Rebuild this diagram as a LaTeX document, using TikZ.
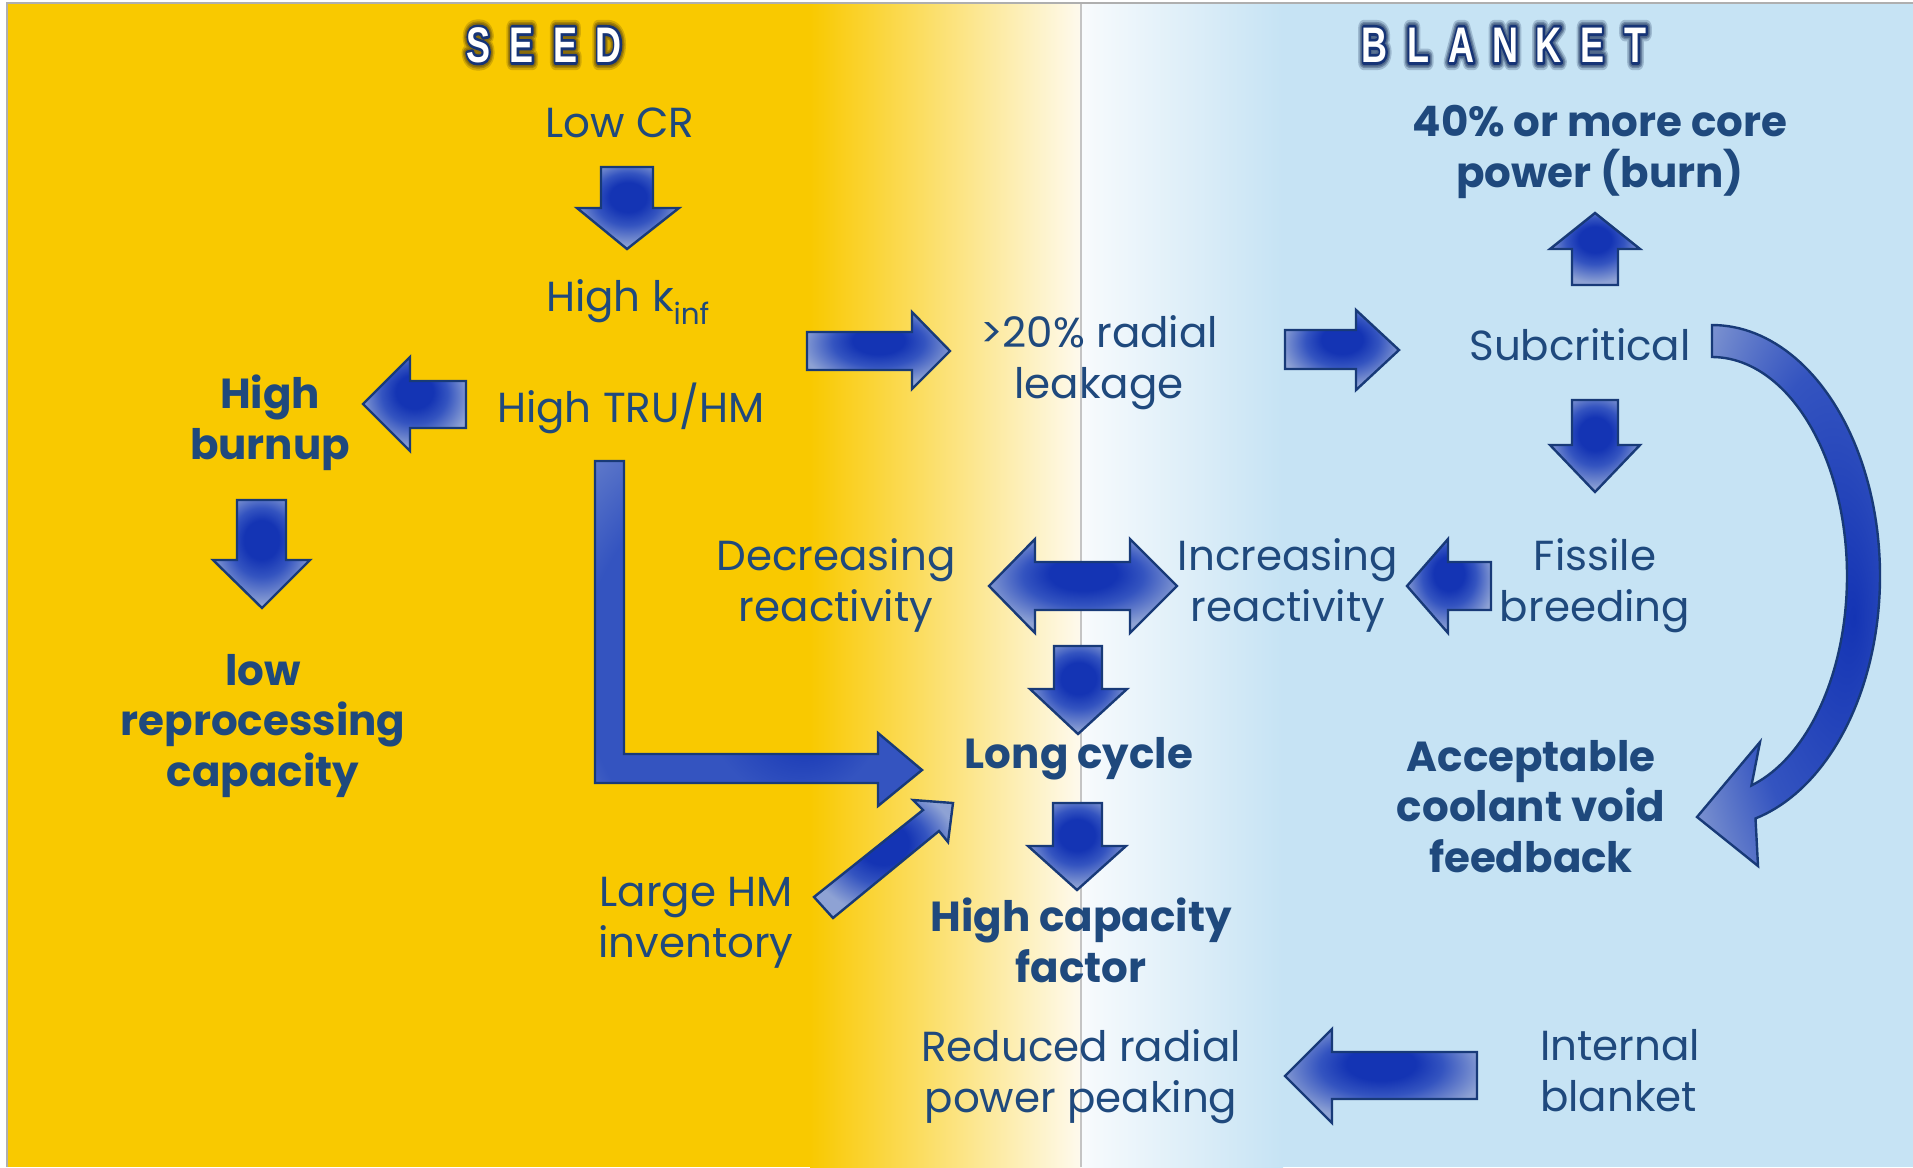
\documentclass[tikz,border=0pt]{standalone}
\usepackage{fontspec}
\usepackage{graphicx}
\usetikzlibrary{calc}
\setmainfont{Poppins}
\newfontfamily\titlefont{Liberation Sans}

% palette
\definecolor{seedyellow}{RGB}{249,201,0}
\definecolor{seedcream}{RGB}{254,250,238}
\definecolor{blanketwhite}{RGB}{248,251,253}
\definecolor{blanketblue}{RGB}{198,227,244}
\definecolor{txt}{RGB}{31,73,125}
\definecolor{ablue}{RGB}{20,52,180}
\definecolor{amid}{RGB}{52,84,192}
\definecolor{alight}{RGB}{142,162,212}
\definecolor{aline}{RGB}{24,58,120}
\definecolor{titlerim}{RGB}{22,52,118}
\definecolor{seedglow}{RGB}{125,98,12}
\definecolor{blanketglow}{RGB}{68,92,128}

% block-arrow fills: dark core slightly above the middle, lighter rim
\pgfdeclareradialshading{arrowshade}{\pgfpoint{0bp}{8bp}}{%
  color(0bp)=(ablue); color(9bp)=(ablue); color(16bp)=(amid); color(27bp)=(alight); color(50bp)=(alight)}
\pgfdeclareradialshading{elbowshade}{\pgfpoint{8bp}{-14bp}}{%
  color(0bp)=(ablue); color(14bp)=(amid); color(30bp)=(amid); color(48bp)=(alight)}
\pgfdeclareradialshading{curveshade}{\pgfpoint{18bp}{-2bp}}{%
  color(0bp)=(ablue); color(22bp)=(amid); color(40bp)=(alight); color(50bp)=(alight)}

\newcommand\labelfont{\fontsize{42}{50.5}\selectfont}
\newcommand\tletter[1]{\makebox[43.5pt]{\scalebox{0.72}[1]{#1}}}
% glyphs filled and stroked in one colour (PDF text render mode 2)
\newcommand\rimmed[3]{% colour, stroke width, text
  {\color{#1}\special{x:gsave}\special{pdf:literal direct 2 Tr #2 w 1 j}#3\special{x:grestore}}}

\tikzset{
  blockarrow/.style={draw=aline, line width=2.4pt, line join=miter, shade, shading=arrowshade},
  lbl/.style={text=txt, inner sep=0pt, align=center, anchor=base, font=\labelfont},
  boldlbl/.style={lbl, font=\labelfont\bfseries},
  titlest/.style={inner sep=0pt, anchor=center, font=\titlefont\bfseries\fontsize{50}{50}\selectfont},
  divider/.style={draw={rgb,255:red,196;green,196;blue,196}, line width=1.2pt},
  frame/.style={draw={rgb,255:red,175;green,175;blue,175}, line width=1.5pt},
}

% outlined heading: soft halo in three layers, navy rim, white letters
\newcommand\heading[5]{% name, x, y, halo colour, letters
  \begin{scope}[opacity=0.3]
    \node[titlest] (#1-halo) at (#2,#3) {\rimmed{#4}{16}{#5}};
  \end{scope}
  \begin{scope}[opacity=0.5]
    \node[titlest] (#1-glow) at (#2,#3) {\rimmed{#4}{12}{#5}};
  \end{scope}
  \begin{scope}[opacity=0.7]
    \node[titlest] (#1-shine) at (#2,#3) {\rimmed{#4}{9}{#5}};
  \end{scope}
  \node[titlest] (#1-rim) at (#2,#3) {\rimmed{titlerim}{5.6}{#5}};
  \node[titlest, text=white] (#1) at (#2,#3) {#5};
}

\begin{document}
\begin{tikzpicture}[x=1pt,y=-1pt]
\useasboundingbox (0,0) rectangle (1913,1167);

% ---- background: seed side, blend, blanket side
\fill[white] (0,0) rectangle (1913,1167);
\fill[seedyellow] (7,3) rectangle (811,1167);
\shade[left color=seedyellow, right color=seedcream] (810,3) rectangle (1081,1167);
\shade[left color=blanketwhite, right color=blanketblue] (1081,3) rectangle (1283,1167);
\fill[blanketblue] (1282,3) rectangle (1913,1167);
\draw[divider] (1081,3) -- (1081,1167);
\draw[frame] (7,1167) -- (7,3) -- (1913,3);

% ---- headings
\heading{seed}{543.5}{45}{seedglow}{\tletter{S}\tletter{E}\tletter{E}\tletter{D}}
\heading{blanket}{1505}{45}{blanketglow}{\tletter{B}\tletter{L}\tletter{A}\tletter{N}\tletter{K}\tletter{E}\tletter{T}}

% ---- labels (multi-line labels sit on the baseline of their last line)
\node[lbl] (lowcr) at (620,137) {Low CR};
\node[lbl] (highk) at (628,311) {High k\textsubscript{inf}};
\node[lbl] (hightru) at (631,422) {High TRU/HM};
\node[boldlbl] (burnup) at (270,459) {High\\burnup};
\node[boldlbl] (lowrep) at (263,786) {low\\reprocessing\\capacity};
\node[lbl] (leak) at (1099,398) {>20\% radial\\leakage};
\node[boldlbl] (pow40) at (1600,187) {40\% or more core\\power (burn)};
\node[lbl] (subcrit) at (1580,360) {Subcritical};
\node[lbl] (fissile) at (1595,621) {Fissile\\breeding};
\node[lbl] (incr) at (1288,621) {Increasing\\reactivity};
\node[lbl] (decr) at (836,621) {Decreasing\\reactivity};
\node[boldlbl] (longcyc) at (1079,768) {Long cycle};
\node[boldlbl] (hicap) at (1081,982) {High capacity\\factor};
\node[lbl] (largehm) at (696,957) {Large HM\\inventory};
\node[boldlbl] (accept) at (1531,872) {Acceptable\\coolant void\\feedback};
\node[lbl] (reduced) at (1081,1112) {Reduced radial\\power peaking};
\node[lbl, align=left, anchor=base west] (internal) at (1540,1111) {Internal\\blanket};

% ---- block arrows
% Low CR -> High k_inf
\path[blockarrow] (601,167) -- (653,167) -- (653,208) -- (679,208) -- (627,249) -- (577,208) -- (601,208) -- cycle;
% High k_inf -> radial leakage
\path[blockarrow] (807,332) -- (912,332) -- (912,312) -- (950,351) -- (912,389) -- (912,370) -- (807,370) -- cycle;
% radial leakage -> subcritical
\path[blockarrow] (1285,330) -- (1356,330) -- (1356,310) -- (1399,350) -- (1356,390) -- (1356,369) -- (1285,369) -- cycle;
% subcritical -> core power
\path[blockarrow] (1572,285) -- (1572,249) -- (1550,249) -- (1595,213) -- (1640,249) -- (1618,249) -- (1618,285) -- cycle;
% subcritical -> fissile breeding
\path[blockarrow] (1572,400) -- (1618,400) -- (1618,445) -- (1640,445) -- (1595,492) -- (1550,445) -- (1572,445) -- cycle;
% fissile breeding -> increasing reactivity
\path[blockarrow] (1491,562) -- (1448,562) -- (1448,539) -- (1407,586) -- (1448,633) -- (1448,610) -- (1491,610) -- cycle;
% decreasing <-> increasing reactivity
\path[blockarrow] (989,586) -- (1035,539) -- (1035,562) -- (1130,562) -- (1130,539) -- (1177,586) -- (1130,633) -- (1130,610) -- (1035,610) -- (1035,633) -- cycle;
% reactivity balance -> long cycle
\path[blockarrow] (1054,646) -- (1102,646) -- (1102,689) -- (1127,689) -- (1078,734) -- (1030,689) -- (1054,689) -- cycle;
% long cycle -> high capacity factor
\path[blockarrow] (1053,803) -- (1102,803) -- (1102,846) -- (1126,846) -- (1077,890) -- (1028,846) -- (1053,846) -- cycle;
% High TRU/HM -> long cycle (elbow)
\path[blockarrow, shading=elbowshade] (595,461) -- (624,461) -- (624,754) -- (878,754) -- (878,733) -- (922,770) -- (878,806) -- (878,783) -- (595,783) -- cycle;
% large HM inventory -> long cycle
\path[blockarrow] (814,897) -- (923,810) -- (913,800) -- (953,803) -- (948,842) -- (939,831) -- (833,918) -- cycle;
% internal blanket -> reduced radial power peaking
\path[blockarrow] (1477,1052) -- (1332,1052) -- (1332,1029) -- (1285,1076) -- (1332,1123) -- (1332,1099) -- (1477,1099) -- cycle;
% High TRU/HM -> high burnup
\path[blockarrow] (466,381) -- (410,381) -- (410,357) -- (363,404) -- (410,451) -- (410,428) -- (466,428) -- cycle;
% high burnup -> low reprocessing capacity
\path[blockarrow] (237,500) -- (286,500) -- (286,560) -- (310,560) -- (262,608) -- (213,560) -- (237,560) -- cycle;
% subcritical -> acceptable coolant void feedback (curved)
\path[blockarrow, shading=curveshade]
  plot[domain=-90:75, samples=90] ({1712+168*cos(\x)}, {576+251*sin(\x)})
  -- (1758,866) -- (1697,817) -- (1760,742)
  -- plot[domain=73:-90, samples=90] ({1712+135*cos(\x)}, {576+219*sin(\x)})
  -- cycle;
\end{tikzpicture}
\end{document}
